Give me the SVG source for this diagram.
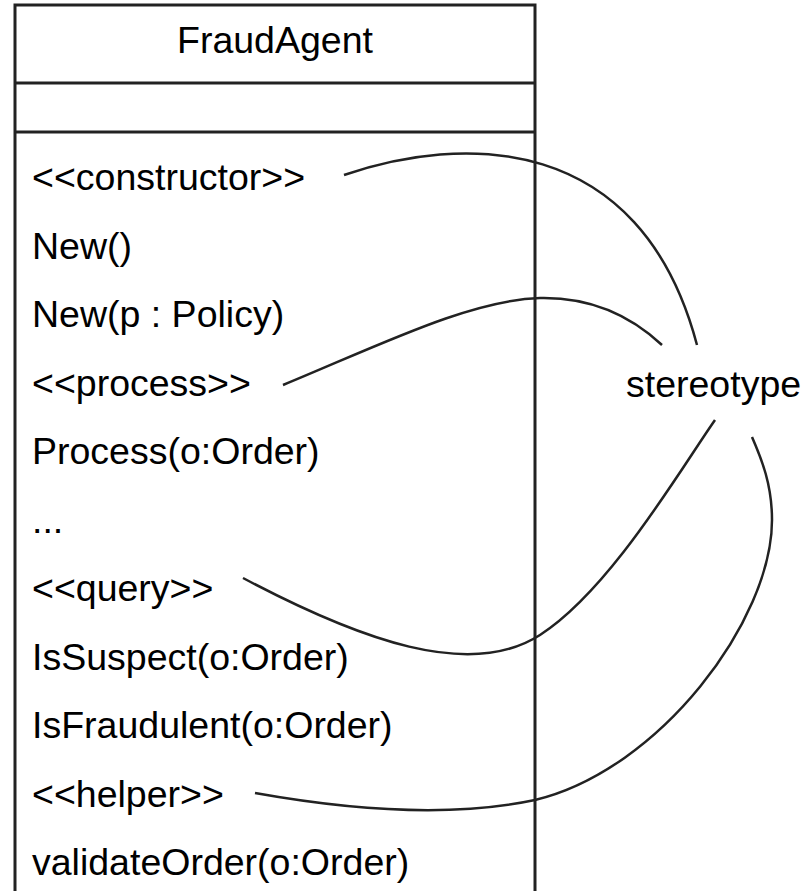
<svg xmlns="http://www.w3.org/2000/svg" width="810" height="891" viewBox="0 0 810 891">
<style>
.t{font-family:"Liberation Sans",Arial,sans-serif;font-size:37.5px;fill:#000}
.box{fill:#fff;stroke:#222;stroke-width:3}
.c{fill:none;stroke:#222;stroke-width:2.5}
</style>
<rect width="810" height="891" fill="#fff"/>
<g id="FraudAgent">
<rect class="box" x="15" y="5" width="520" height="900"/>
<line class="box" x1="15" y1="83" x2="535" y2="83"/>
<line class="box" x1="15" y1="132" x2="535" y2="132"/>
<text class="t" x="275" y="53" text-anchor="middle">FraudAgent</text>
<text class="t" x="32" y="190">&lt;&lt;constructor&gt;&gt;</text>
<text class="t" x="32" y="259">New()</text>
<text class="t" x="32" y="327">New(p : Policy)</text>
<text class="t" x="32" y="396">&lt;&lt;process&gt;&gt;</text>
<text class="t" x="32" y="464">Process(o:Order)</text>
<text class="t" x="32" y="533">...</text>
<text class="t" x="32" y="601">&lt;&lt;query&gt;&gt;</text>
<text class="t" x="32" y="670">IsSuspect(o:Order)</text>
<text class="t" x="32" y="738">IsFraudulent(o:Order)</text>
<text class="t" x="32" y="807">&lt;&lt;helper&gt;&gt;</text>
<text class="t" x="32" y="875">validateOrder(o:Order)</text>
</g>
<g id="stereotype">
<text class="t" x="626" y="397">stereotype</text>
</g>
<g id="connectors">
<path class="c" d="M344,175 C460,135 640,130 697,345"/>
<path class="c" d="M283,385 C380,345 470,300 540,298 C590,297 630,315 662,345"/>
<path class="c" d="M243,578 C360,640 470,680 540,635 S680,470 715,420"/>
<path class="c" d="M255,793 C350,810 450,818 535,800 C660,770 772,620 772,520 C772,485 762,460 752,437"/>
</g>
</svg>
